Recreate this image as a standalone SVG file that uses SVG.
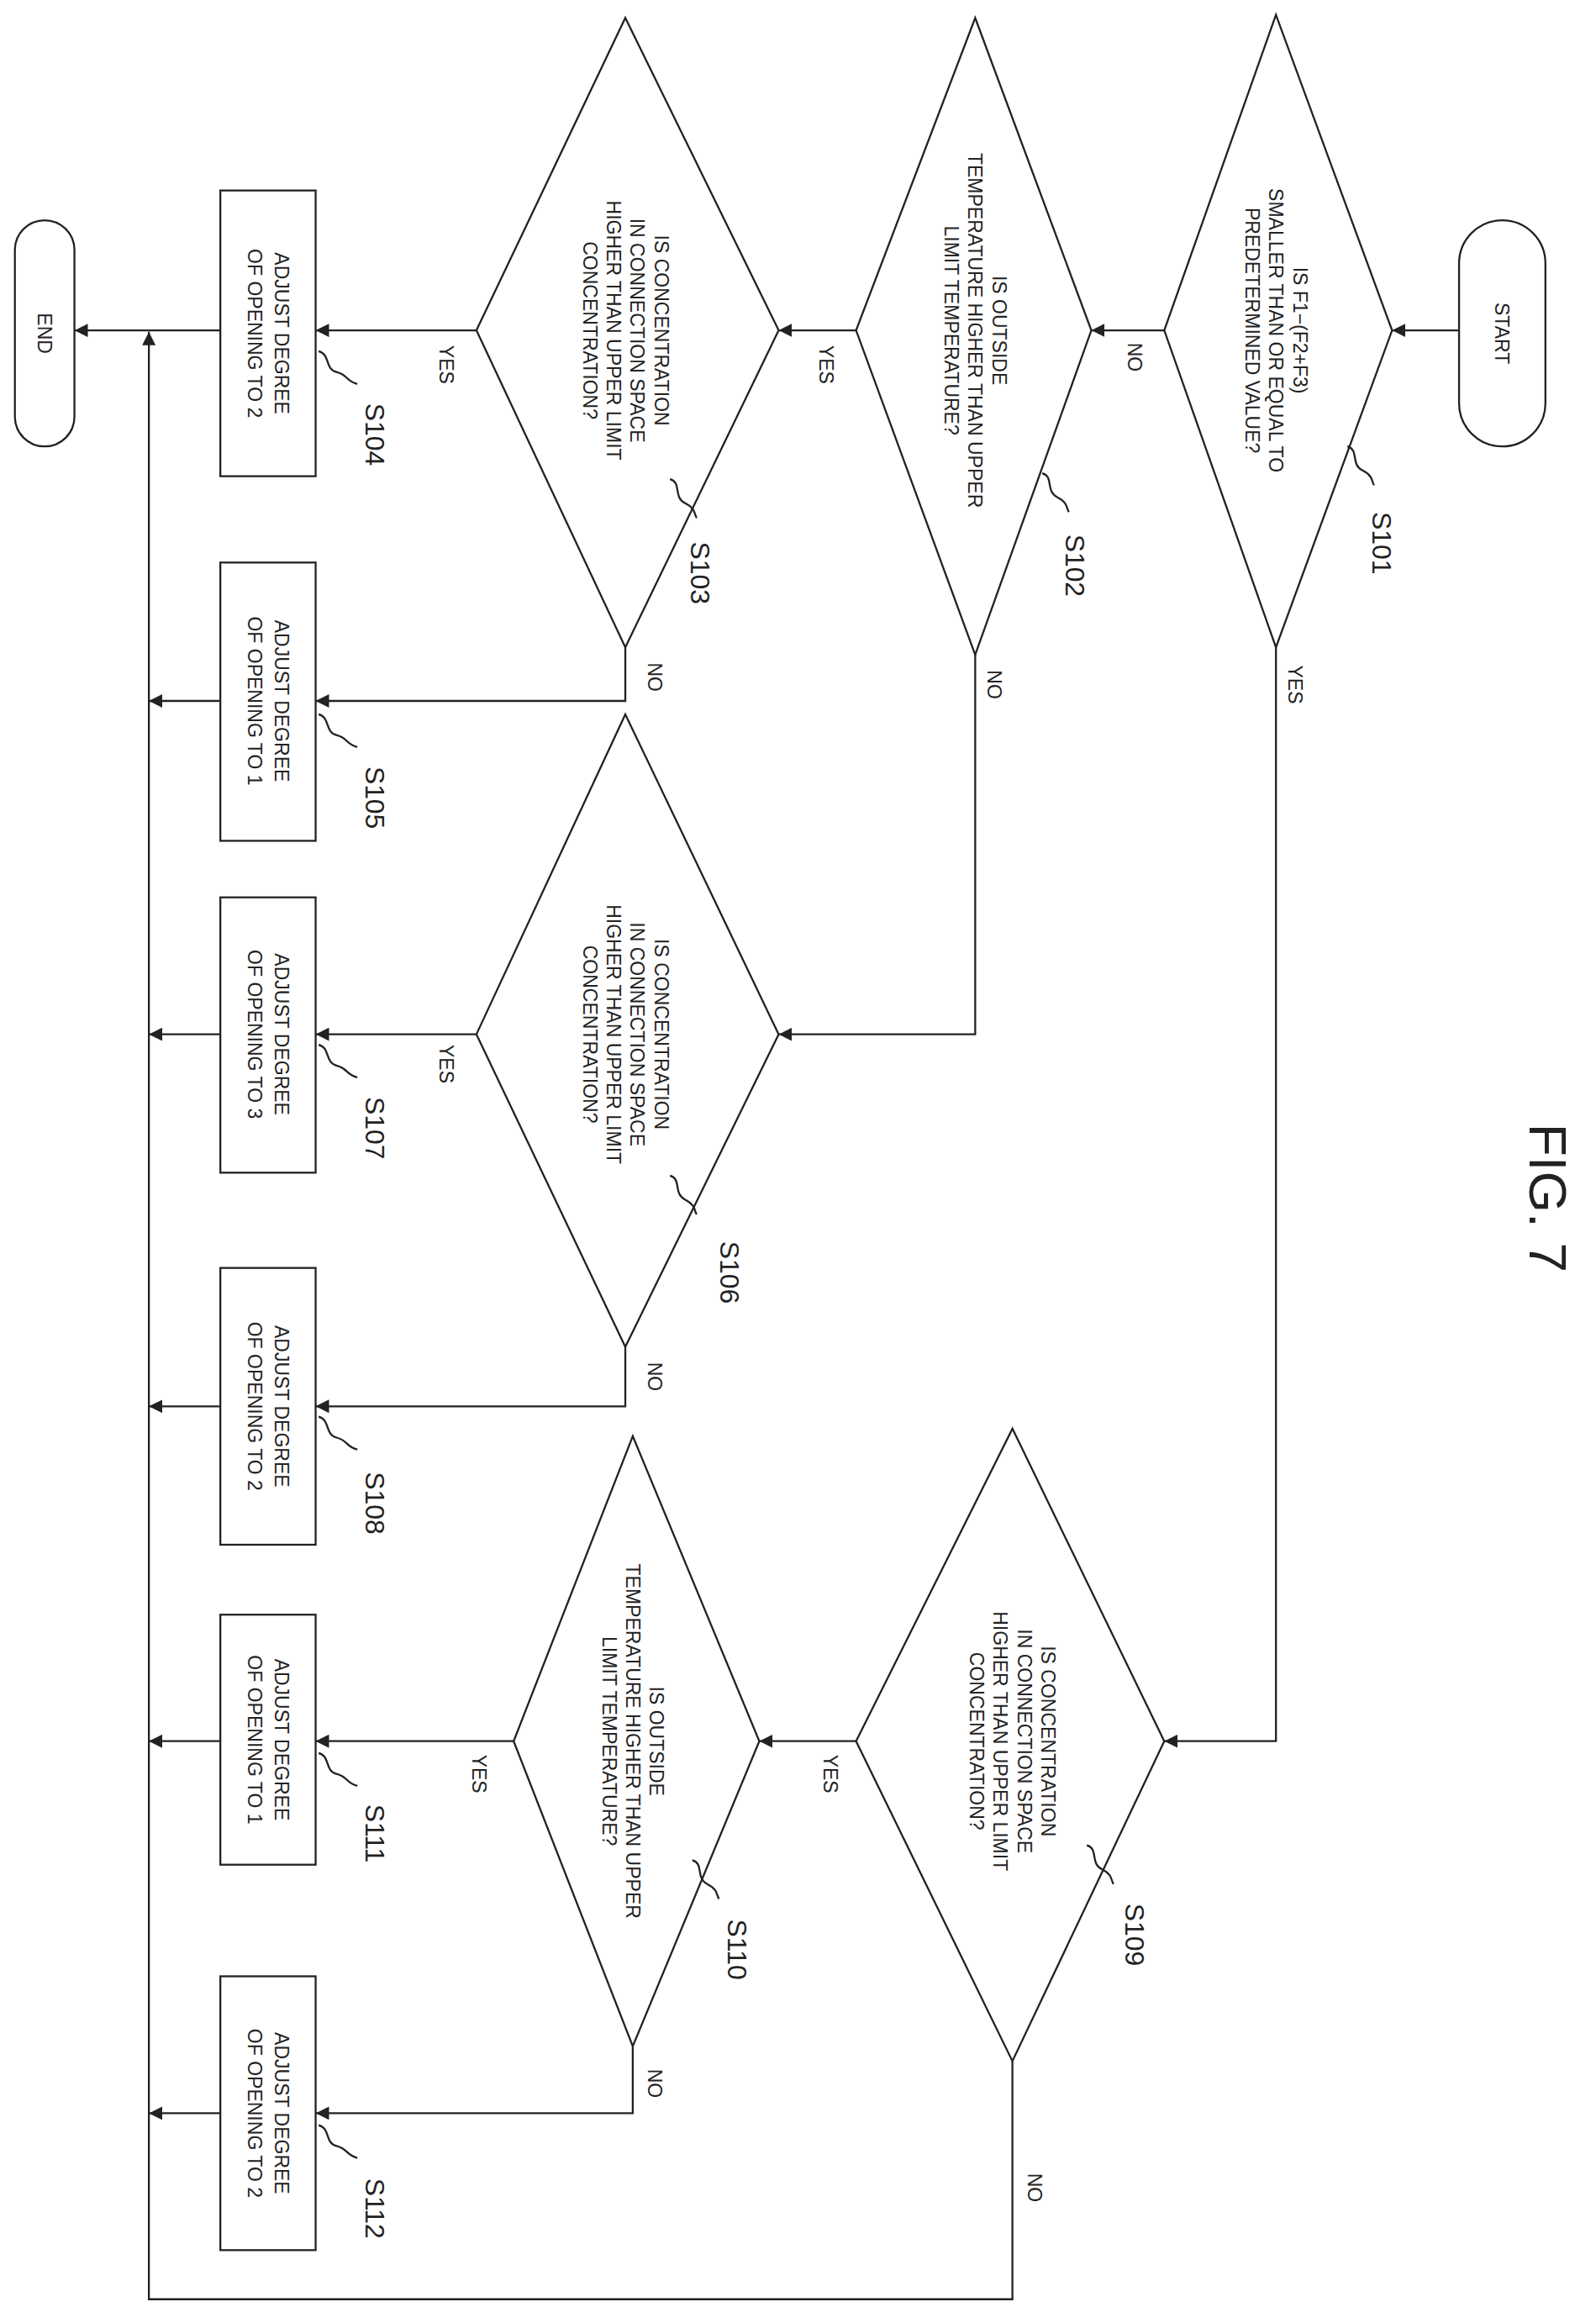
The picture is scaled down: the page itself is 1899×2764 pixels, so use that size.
<svg xmlns="http://www.w3.org/2000/svg" width="1899" height="2764" viewBox="0 0 1899 2764">
<style>
.s{fill:none;stroke:#222;stroke-width:1.3}
.b{fill:#fff;stroke:#222;stroke-width:1.3}
.t{font-family:"Liberation Sans",Arial,sans-serif;font-size:13px;fill:#222;text-anchor:middle;dominant-baseline:central}
.l{font-family:"Liberation Sans",Arial,sans-serif;font-size:18px;fill:#222;text-anchor:middle;dominant-baseline:central}
.y{font-family:"Liberation Sans",Arial,sans-serif;font-size:13px;fill:#222;text-anchor:middle;dominant-baseline:central}
</style>
<defs><marker id="a" viewBox="0 0 10 10" refX="10" refY="5" markerWidth="9" markerHeight="9" markerUnits="userSpaceOnUse" orient="auto"><path d="M0,0L10,5L0,10z" fill="#222"/></marker></defs>
<rect width="1899" height="2764" fill="#fff"/>
<g transform="scale(1.7715,1.7707)">
<g id="connectors" class="s" marker-end="url(#a)">
<path d="M980,222H935"/><path d="M782,222H733"/><path d="M575,222H523"/><path d="M320,222H212"/><path d="M148,222H50"/>
<path d="M680,1385V1545H100V223"/>
<path d="M420,435V471H212"/><path d="M148,471H100"/>
<path d="M655,440V695H523"/><path d="M320,695H212"/><path d="M148,695H100"/>
<path d="M420,905V945H212"/><path d="M148,945H100"/>
<path d="M857,435V1170H782"/><path d="M575,1170H510"/><path d="M345,1170H212"/><path d="M148,1170H100"/>
<path d="M425,1375V1420H212"/><path d="M148,1420H100"/>
</g>
<g id="edge-labels">
<text class="y" transform="translate(762,240) rotate(90)">NO</text>
<text class="y" transform="translate(555,245) rotate(90)">YES</text>
<text class="y" transform="translate(300,245) rotate(90)">YES</text>
<text class="y" transform="translate(440,455) rotate(90)">NO</text>
<text class="y" transform="translate(668,460) rotate(90)">NO</text>
<text class="y" transform="translate(300,715) rotate(90)">YES</text>
<text class="y" transform="translate(440,925) rotate(90)">NO</text>
<text class="y" transform="translate(870,460) rotate(90)">YES</text>
<text class="y" transform="translate(558,1192) rotate(90)">YES</text>
<text class="y" transform="translate(322,1192) rotate(90)">YES</text>
<text class="y" transform="translate(440,1400) rotate(90)">NO</text>
<text class="y" transform="translate(695,1470) rotate(90)">NO</text>
</g>
<g id="start"><rect class="b" x="980" y="148" width="58" height="152" rx="29"/><text class="t" transform="translate(1009,224) rotate(90)">START</text></g>
<g id="end"><rect class="b" x="10" y="148" width="40" height="152" rx="20"/><text class="t" transform="translate(30,224) rotate(90)">END</text></g>
<g id="S101"><path class="b" d="M857,10L935,222L857,435L782,222z"/>
<text class="t" transform="translate(857,222) rotate(90)"><tspan x="0" y="-16">IS F1−(F2+F3)</tspan><tspan x="0" y="0">SMALLER THAN OR EQUAL TO</tspan><tspan x="0" y="16">PREDETERMINED VALUE?</tspan></text>
<path class="s" d="M905,300c8,2,2,12,10,16s6,8,8,10"/><text class="l" transform="translate(928,365) rotate(90)">S101</text></g>
<g id="S102"><path class="b" d="M655,12L733,222L655,440L575,222z"/>
<text class="t" transform="translate(655,222) rotate(90)"><tspan x="0" y="-16">IS OUTSIDE</tspan><tspan x="0" y="0">TEMPERATURE HIGHER THAN UPPER</tspan><tspan x="0" y="16">LIMIT TEMPERATURE?</tspan></text>
<path class="s" d="M700,318c8,2,2,12,10,16s6,8,8,10"/><text class="l" transform="translate(722,380) rotate(90)">S102</text></g>
<g id="S103"><path class="b" d="M420,12L523,222L420,435L320,222z"/>
<text class="t" transform="translate(420,222) rotate(90)"><tspan x="0" y="-24">IS CONCENTRATION</tspan><tspan x="0" y="-8">IN CONNECTION SPACE</tspan><tspan x="0" y="8">HIGHER THAN UPPER LIMIT</tspan><tspan x="0" y="24">CONCENTRATION?</tspan></text>
<path class="s" d="M450,322c8,2,2,12,10,16s6,8,8,10"/><text class="l" transform="translate(470,385) rotate(90)">S103</text></g>
<g id="S104"><rect class="b" x="148" y="128" width="64" height="192"/>
<text class="t" transform="translate(180,224) rotate(90)"><tspan x="0" y="-9">ADJUST DEGREE</tspan><tspan x="0" y="9">OF OPENING TO 2</tspan></text>
<path class="s" d="M214,236c8,2,4,12,12,14s6,6,14,8"/><text class="l" transform="translate(252,292) rotate(90)">S104</text></g>
<g id="S105"><rect class="b" x="148" y="378" width="64" height="187"/>
<text class="t" transform="translate(180,471) rotate(90)"><tspan x="0" y="-9">ADJUST DEGREE</tspan><tspan x="0" y="9">OF OPENING TO 1</tspan></text>
<path class="s" d="M214,480c8,2,4,12,12,14s6,6,14,8"/><text class="l" transform="translate(252,536) rotate(90)">S105</text></g>
<g id="S106"><path class="b" d="M420,480L523,695L420,905L320,695z"/>
<text class="t" transform="translate(420,695) rotate(90)"><tspan x="0" y="-24">IS CONCENTRATION</tspan><tspan x="0" y="-8">IN CONNECTION SPACE</tspan><tspan x="0" y="8">HIGHER THAN UPPER LIMIT</tspan><tspan x="0" y="24">CONCENTRATION?</tspan></text>
<path class="s" d="M450,790c8,2,2,12,10,16s6,8,8,10"/><text class="l" transform="translate(490,855) rotate(90)">S106</text></g>
<g id="S107"><rect class="b" x="148" y="603" width="64" height="185"/>
<text class="t" transform="translate(180,695) rotate(90)"><tspan x="0" y="-9">ADJUST DEGREE</tspan><tspan x="0" y="9">OF OPENING TO 3</tspan></text>
<path class="s" d="M214,702c8,2,4,12,12,14s6,6,14,8"/><text class="l" transform="translate(252,758) rotate(90)">S107</text></g>
<g id="S108"><rect class="b" x="148" y="852" width="64" height="186"/>
<text class="t" transform="translate(180,945) rotate(90)"><tspan x="0" y="-9">ADJUST DEGREE</tspan><tspan x="0" y="9">OF OPENING TO 2</tspan></text>
<path class="s" d="M214,952c8,2,4,12,12,14s6,6,14,8"/><text class="l" transform="translate(252,1010) rotate(90)">S108</text></g>
<g id="S109"><path class="b" d="M680,960L782,1170L680,1385L575,1170z"/>
<text class="t" transform="translate(680,1170) rotate(90)"><tspan x="0" y="-24">IS CONCENTRATION</tspan><tspan x="0" y="-8">IN CONNECTION SPACE</tspan><tspan x="0" y="8">HIGHER THAN UPPER LIMIT</tspan><tspan x="0" y="24">CONCENTRATION?</tspan></text>
<path class="s" d="M730,1240c8,2,2,12,10,16s6,8,8,10"/><text class="l" transform="translate(762,1300) rotate(90)">S109</text></g>
<g id="S110"><path class="b" d="M425,965L510,1170L425,1375L345,1170z"/>
<text class="t" transform="translate(425,1170) rotate(90)"><tspan x="0" y="-16">IS OUTSIDE</tspan><tspan x="0" y="0">TEMPERATURE HIGHER THAN UPPER</tspan><tspan x="0" y="16">LIMIT TEMPERATURE?</tspan></text>
<path class="s" d="M465,1250c8,2,2,12,10,16s6,8,8,10"/><text class="l" transform="translate(495,1310) rotate(90)">S110</text></g>
<g id="S111"><rect class="b" x="148" y="1085" width="64" height="168"/>
<text class="t" transform="translate(180,1169) rotate(90)"><tspan x="0" y="-9">ADJUST DEGREE</tspan><tspan x="0" y="9">OF OPENING TO 1</tspan></text>
<path class="s" d="M214,1178c8,2,4,12,12,14s6,6,14,8"/><text class="l" transform="translate(252,1232) rotate(90)">S111</text></g>
<g id="S112"><rect class="b" x="148" y="1328" width="64" height="184"/>
<text class="t" transform="translate(180,1420) rotate(90)"><tspan x="0" y="-9">ADJUST DEGREE</tspan><tspan x="0" y="9">OF OPENING TO 2</tspan></text>
<path class="s" d="M214,1428c8,2,4,12,12,14s6,6,14,8"/><text class="l" transform="translate(252,1484) rotate(90)">S112</text></g>
<text class="l" style="font-size:36px" transform="translate(1040,805) rotate(90)">FIG. 7</text>
</g>
</svg>
